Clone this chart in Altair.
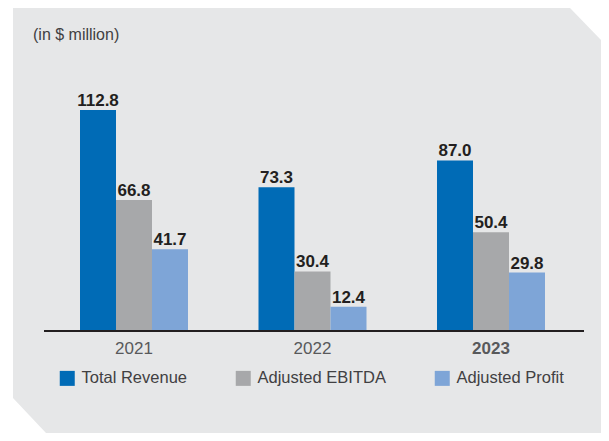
import altair as alt
import pandas as pd

# ---- data ----
years = ["2021", "2022", "2023"]
series = ["Total Revenue", "Adjusted EBITDA", "Adjusted Profit"]
total_revenue = [112.8, 73.3, 87.0]
adjusted_ebitda = [66.8, 30.4, 50.4]
adjusted_profit = [41.7, 12.4, 29.8]
unit_note = "(in $ million)"
highlight_year = "2023"

colors = ["#006bb6", "#a7a8aa", "#7ea5d7"]
panel_fill = "#e6e7e8"
font = "Liberation Sans"

rows = []
for i, y in enumerate(years):
    for s, vals in zip(series, [total_revenue, adjusted_ebitda, adjusted_profit]):
        rows.append({"year": y, "series": s, "value": vals[i]})
df = pd.DataFrame(rows)
year_df = pd.DataFrame({"year": years})

W, H = 593, 425

# background panel with cut corners (pixel-space decoration)
panel = pd.DataFrame({
    "px": [5, 38, 562, W],
    "top": [0, 0, 0, 32],
    "bottom": [390, H, H, H],
})

base_y = 323
px_per_unit = 1.96

bg = alt.Chart(panel).mark_area(color=panel_fill, opacity=1).encode(
    x=alt.X("px:Q", scale=alt.Scale(domain=[0, W], range=[0, W], nice=False, zero=False), axis=None),
    y=alt.Y("top:Q", scale=alt.Scale(domain=[0, H], range=[0, H], nice=False, zero=False), axis=None),
    y2="bottom:Q",
)

xscale = alt.Scale(domain=years, range=[72, 537], paddingInner=0.395, paddingOuter=0)
yscale = alt.Scale(domain=[0, 112.8], range=[base_y, base_y - px_per_unit * 112.8], nice=False, zero=True)
offscale = alt.Scale(domain=series, paddingInner=0, paddingOuter=0)

bars = alt.Chart(df).mark_bar(opacity=1).encode(
    x=alt.X("year:N", scale=xscale, axis=None),
    xOffset=alt.XOffset("series:N", scale=offscale, sort=series),
    y=alt.Y("value:Q", scale=yscale, axis=None),
    color=alt.Color(
        "series:N",
        scale=alt.Scale(domain=series, range=colors),
        sort=series,
        legend=alt.Legend(
            orient="none", legendX=51, legendY=362, direction="horizontal",
            title=None, symbolType="square", symbolSize=225, symbolStrokeWidth=0,
            symbolOpacity=1, labelFontSize=16.5, labelColor="#414042", labelFont=font,
            labelOffset=6, columnPadding=48, padding=0,
        ),
    ),
)

labels = alt.Chart(df).mark_text(
    baseline="alphabetic", dy=-4, font=font, fontSize=17, fontWeight="bold", color="#231f20"
).encode(
    x=alt.X("year:N", scale=xscale, axis=None),
    xOffset=alt.XOffset("series:N", scale=offscale, sort=series),
    y=alt.Y("value:Q", scale=yscale, axis=None),
    text=alt.Text("value:Q", format=".1f"),
)

rule = alt.Chart(pd.DataFrame({"v": [0]})).mark_rule(color="#231f20", strokeWidth=2).encode(
    y=alt.Y("v:Q", scale=yscale, axis=None),
    x=alt.value(36),
    x2=alt.value(576),
)

year_normal = alt.Chart(year_df).transform_filter(
    alt.datum.year != highlight_year
).mark_text(baseline="middle", font=font, fontSize=17, color="#58595b").encode(
    x=alt.X("year:N", scale=xscale, axis=None),
    y=alt.value(340.5),
    text="year:N",
)
year_bold = alt.Chart(year_df).transform_filter(
    alt.datum.year == highlight_year
).mark_text(baseline="middle", font=font, fontSize=17, fontWeight="bold", color="#58595b").encode(
    x=alt.X("year:N", scale=xscale, axis=None),
    y=alt.value(340.5),
    text="year:N",
)

note = alt.Chart(pd.DataFrame({"t": [unit_note]})).mark_text(
    align="left", baseline="middle", font=font, fontSize=16, color="#414042"
).encode(
    x=alt.value(25), y=alt.value(27), text="t:N"
)

front = alt.layer(bars, labels, rule, year_normal, year_bold, note)

chart = alt.layer(bg, front).resolve_scale(
    x="independent", y="independent"
).properties(
    width=W, height=H, padding=0,
    autosize=alt.AutoSizeParams(type="none"),
).configure(background="white").configure_view(stroke=None)

chart.save("out.html", embed_options={"renderer": "svg", "actions": False})
